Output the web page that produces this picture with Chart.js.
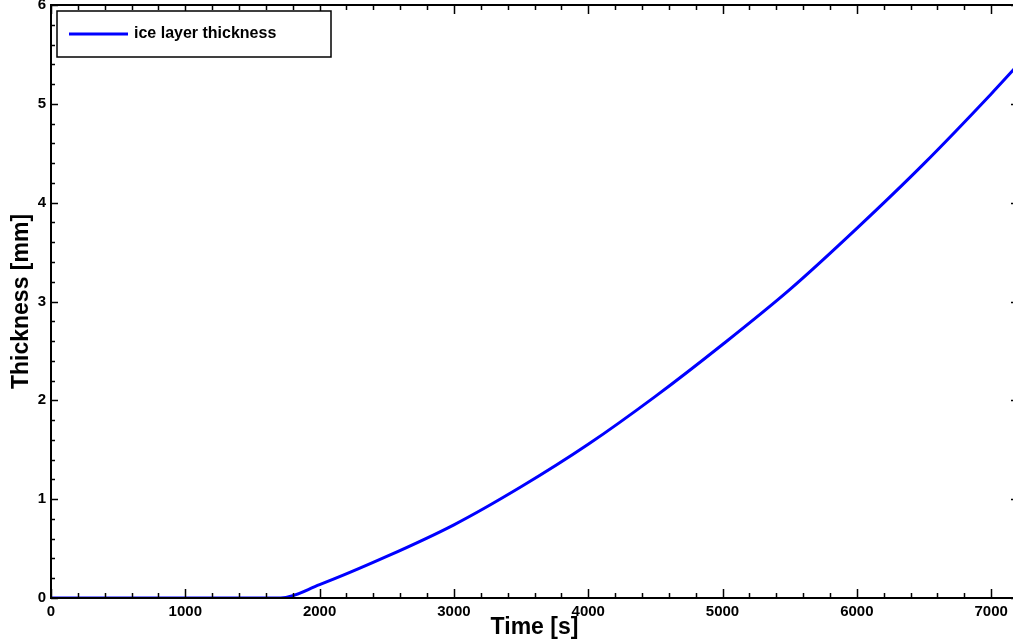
<!DOCTYPE html>
<html>
<head>
<meta charset="utf-8">
<title>ice layer thickness</title>
<script src="https://cdn.jsdelivr.net/npm/chart.js@4/dist/chart.umd.min.js"></script>
<style>
  html, body { margin: 0; padding: 0; background: #fff; overflow: hidden; }
  #wrap { width: 1030px; height: 644px; }
</style>
</head>
<body>
<div id="wrap"><canvas id="chart" width="1030" height="644"></canvas></div>
<script>
// values
const timeS = [0, 1710, 2000, 2500, 3000, 3500, 4000, 4500, 5000, 5500, 6000, 6500, 7000, 7200];
const thicknessMm = [0, 0, 0.135, 0.42, 0.74, 1.125, 1.555, 2.04, 2.565, 3.12, 3.74, 4.395, 5.10, 5.395];
const seriesLabel = 'ice layer thickness';
const xTitle = 'Time [s]';
const yTitle = 'Thickness [mm]';
const xRange = [0, 7200];
const yRange = [0, 6];

const FONT = '"Liberation Sans", Arial, Helvetica, sans-serif';

function isMajor(v){ return Math.abs(v - Math.round(v)) < 1e-6; }

// MATLAB-ish box with inward ticks on all four sides, plus legend box
const boxPlugin = {
  id: 'box',
  afterDatasetsDraw(chart){
    const {ctx, chartArea: a, scales: {x, y}} = chart;
    ctx.save();
    ctx.strokeStyle = '#000';
    ctx.lineWidth = 1.5;
    ctx.beginPath();
    x.ticks.forEach(t => {
      const px = Math.round(x.getPixelForValue(t.value)) + 0.5;
      const len = isMajor(t.value / 1000) ? 9 : 5;
      ctx.moveTo(px, a.bottom); ctx.lineTo(px, a.bottom - len);
      ctx.moveTo(px, a.top); ctx.lineTo(px, a.top + len);
    });
    y.ticks.forEach(t => {
      const py = Math.round(y.getPixelForValue(t.value)) + 0.5;
      const len = isMajor(t.value) ? 7 : 4;
      ctx.moveTo(a.left, py); ctx.lineTo(a.left + len, py);
      ctx.moveTo(a.right, py); ctx.lineTo(a.right - len, py);
    });
    ctx.stroke();
    ctx.lineWidth = 2;
    ctx.strokeRect(a.left, a.top, a.right - a.left, a.bottom - a.top);

    // legend
    const ds = chart.data.datasets[0];
    const lx = a.left + 6, ly = a.top + 6, lw = 274, lh = 46;
    ctx.fillStyle = '#fff';
    ctx.fillRect(lx, ly, lw, lh);
    ctx.lineWidth = 1.5;
    ctx.strokeRect(lx, ly, lw, lh);
    ctx.strokeStyle = ds.borderColor;
    ctx.lineWidth = 3;
    ctx.beginPath();
    ctx.moveTo(lx + 12, ly + 23); ctx.lineTo(lx + 71, ly + 23);
    ctx.stroke();
    ctx.fillStyle = '#000';
    ctx.font = 'bold 16px ' + FONT;
    ctx.textBaseline = 'middle';
    ctx.fillText(ds.label, lx + 77, ly + 23);
    ctx.restore();
  }
};

new Chart(document.getElementById('chart'), {
  type: 'line',
  data: {
    datasets: [{
      label: seriesLabel,
      data: timeS.map((t, i) => ({x: t, y: thicknessMm[i]})),
      borderColor: '#0000ff',
      borderWidth: 3,
      pointRadius: 0,
      cubicInterpolationMode: 'monotone',
      fill: false
    }]
  },
  options: {
    responsive: false,
    devicePixelRatio: 1,
    animation: false,
    layout: { padding: { top: 5, right: 12, left: 0, bottom: 0 } },
    plugins: { legend: { display: false }, tooltip: { enabled: false } },
    scales: {
      x: {
        type: 'linear',
        min: xRange[0], max: xRange[1],
        grid: { display: false, drawTicks: false },
        border: { display: false },
        ticks: {
          stepSize: 200, autoSkip: false, maxRotation: 0, padding: 5,
          color: '#000', font: { family: FONT, size: 15, weight: 'bold' },
          callback: v => isMajor(v / 1000) ? String(v) : ''
        },
        title: { display: true, text: xTitle, color: '#000',
          font: { family: FONT, size: 23, weight: 'bold' }, padding: { bottom: 3, top: 0 } },
        afterFit(s){ s.height = 46; s.paddingLeft = 0; s.paddingRight = 0; }
      },
      y: {
        type: 'linear',
        min: yRange[0], max: yRange[1],
        grid: { display: false, drawTicks: false },
        border: { display: false },
        ticks: {
          stepSize: 0.2, autoSkip: false, padding: 5,
          color: '#000', font: { family: FONT, size: 15, weight: 'bold' },
          callback: v => isMajor(v) ? String(Math.round(v)) : ''
        },
        title: { display: true, text: yTitle, color: '#000',
          font: { family: FONT, size: 23, weight: 'bold' }, padding: { top: 8, bottom: 0 } },
        afterFit(s){ s.width = 51; s.paddingTop = 0; s.paddingBottom = 0; }
      }
    }
  },
  plugins: [boxPlugin]
});
</script>
</body>
</html>
